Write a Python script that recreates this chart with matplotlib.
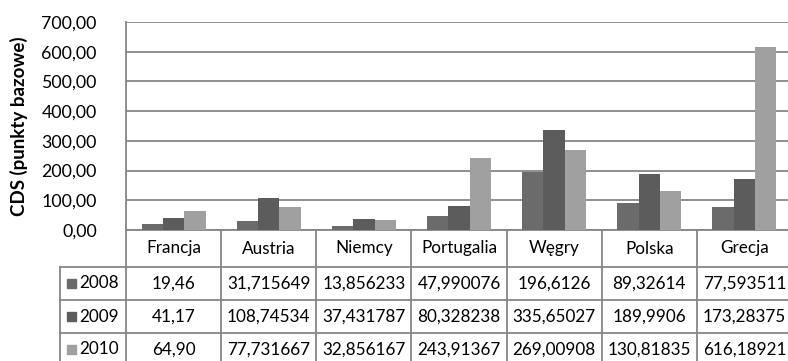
import matplotlib
matplotlib.use('Agg')
import matplotlib.pyplot as plt
import matplotlib.transforms as mtransforms
import numpy as np

countries = ['Francja', 'Austria', 'Niemcy', 'Portugalia', 'Węgry', 'Polska', 'Grecja']
years = ['2008', '2009', '2010']
cds_2008 = [19.46, 31.715649, 13.856233, 47.990076, 196.6126, 89.32614, 77.593511]
cds_2009 = [41.17, 108.74534, 37.431787, 80.328238, 335.65027, 189.9906, 173.28375]
cds_2010 = [64.90, 77.731667, 32.856167, 243.91367, 269.00908, 130.81835, 616.18921]
labels_2008 = ['19,46', '31,715649', '13,856233', '47,990076', '196,6126', '89,32614', '77,593511']
labels_2009 = ['41,17', '108,74534', '37,431787', '80,328238', '335,65027', '189,9906', '173,28375']
labels_2010 = ['64,90', '77,731667', '32,856167', '243,91367', '269,00908', '130,81835', '616,18921']
y_ticks = [0, 100, 200, 300, 400, 500, 600, 700]

colors = ['#6b6b6b', '#5c5c5c', '#a0a0a0']
grid_col = '#868686'
fs = 12.3

plt.rcParams['font.family'] = ['Lato', 'DejaVu Sans']

W, H = 788, 361
fig = plt.figure(figsize=(W / 100, H / 100), dpi=100)


def fx(px):
    return px / W


def fy(py):
    return 1 - py / H


ax_left, ax_right, ax_top, ax_bot = 126, 792, 22, 230
ax = fig.add_axes([fx(ax_left), fy(ax_bot), fx(ax_right - ax_left), fy(ax_top) - fy(ax_bot)])

x = np.arange(len(countries))
bw = 0.224
for i, vals in enumerate([cds_2008, cds_2009, cds_2010]):
    ax.bar(x + (i - 1) * bw, vals, width=bw, color=colors[i], zorder=3)

ax.set_xlim(-0.5, len(countries) - 0.5)
ax.set_ylim(0, 700)
ax.set_yticks(y_ticks)
ax.set_yticklabels([f'{v},00' for v in y_ticks], fontsize=12.8)
ax.tick_params(axis='y', length=0, pad=21)
ax.set_xticks([])
ax.grid(axis='y', color=grid_col, linewidth=1.3, zorder=0)
for s in ['top', 'right']:
    ax.spines[s].set_visible(False)
for s in ['left', 'bottom']:
    ax.spines[s].set_color(grid_col)
    ax.spines[s].set_linewidth(1.3)
ax.set_ylabel('CDS (punkty bazowe)', fontsize=13.5, fontweight='bold', va='center')
ax.yaxis.set_label_coords(-(ax_left - 19) / (ax_right - ax_left), 0.5)

# data table below the plot
tr = mtransforms.blended_transform_factory(ax.transData, fig.transFigure)
row_lines = [267, 300, 333, 366]
tab_left = 59.5
lw = 1.3
for b in np.arange(-0.5, len(countries) + 0.5, 1):
    ax.plot([b, b], [fy(ax_bot), fy(row_lines[-1])], color=grid_col, lw=lw,
            transform=tr, clip_on=False)
fig.add_artist(plt.Line2D([fx(tab_left), fx(tab_left)], [fy(row_lines[0]), fy(row_lines[-1])],
                          color=grid_col, lw=lw))
for r in row_lines:
    fig.add_artist(plt.Line2D([fx(tab_left), fx(ax_right)], [fy(r), fy(r)], color=grid_col, lw=lw))

for xi, c in zip(x, countries):
    ax.text(xi, fy((ax_bot + row_lines[0]) / 2), c, transform=tr, ha='center', va='center',
            fontsize=fs)

rows = [labels_2008, labels_2009, labels_2010]
for ri, (yr, labs) in enumerate(zip(years, rows)):
    yc = fy((row_lines[ri] + row_lines[ri + 1]) / 2)
    fig.add_artist(plt.Rectangle((fx(66.5), yc - (fy(0) - fy(4.5))), fx(9), fy(0) - fy(9),
                                 color=colors[ri], transform=fig.transFigure))
    fig.text(fx(79), yc, yr, ha='left', va='center', fontsize=fs)
    for xi, lab in zip(x, labs):
        ax.text(xi, yc, lab, transform=tr, ha='center', va='center', fontsize=fs)

fig.savefig('out.png', dpi=100)
